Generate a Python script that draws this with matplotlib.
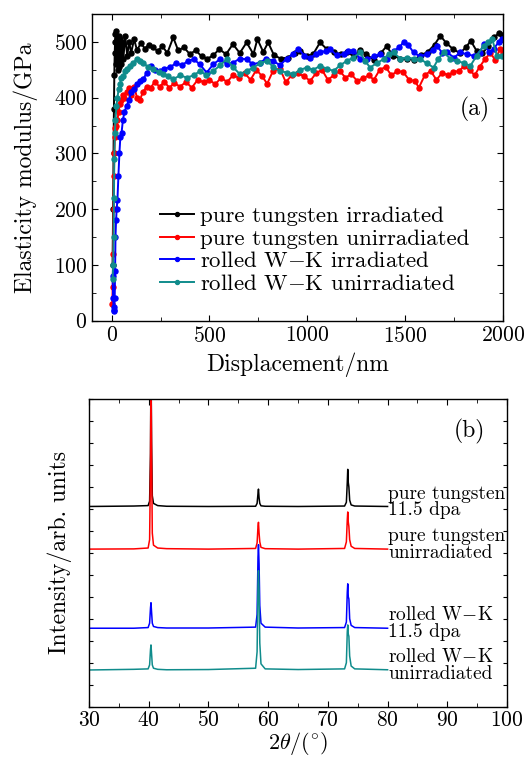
import matplotlib
matplotlib.use('Agg')
import matplotlib.pyplot as plt
from matplotlib.ticker import MultipleLocator

plt.rcParams['font.family'] = ['cmr10', 'DejaVu Serif']
plt.rcParams['mathtext.fontset'] = 'cm'
plt.rcParams['axes.formatter.use_mathtext'] = True

# (a) elasticity modulus vs displacement
w_irr_x = [5, 8, 10, 12, 14, 16, 18, 20, 22, 25, 28, 32, 36, 40, 45, 50, 55, 60, 70, 80, 90, 100,
           115, 130, 150, 170, 190, 210, 235, 260, 285, 315, 340, 370, 400, 430, 460, 490, 520, 550,
           585, 620, 655, 690, 725, 745, 775, 800, 830, 865, 900, 935, 965, 1000, 1030, 1065, 1100,
           1135, 1170, 1205, 1240, 1270, 1300, 1340, 1375, 1405, 1440, 1475, 1510, 1545, 1580, 1615,
           1650, 1680, 1710, 1745, 1780, 1810, 1835, 1865, 1895, 1925, 1955, 1980, 1995]
w_irr_y = [100, 200, 300, 380, 440, 480, 500, 515, 520, 460, 505, 450, 510, 455, 505, 460, 500, 470,
           510, 475, 500, 480, 505, 485, 498, 488, 495, 490, 484, 492, 480, 508, 485, 490, 478, 485,
           474, 470, 476, 487, 478, 496, 480, 499, 478, 505, 482, 499, 476, 470, 472, 480, 484, 474,
           478, 499, 487, 482, 478, 481, 474, 486, 478, 468, 480, 492, 475, 470, 470, 468, 476, 482,
           495, 511, 498, 487, 480, 490, 502, 484, 480, 492, 508, 516, 512]

w_unirr_x = [3, 6, 8, 10, 12, 14, 17, 20, 25, 30, 36, 42, 50, 58, 66, 77, 88, 100, 115, 130, 145,
             160, 180, 200, 220, 245, 270, 295, 320, 350, 380, 410, 440, 470, 500, 530, 560, 590,
             620, 650, 680, 710, 740, 770, 795, 825, 860, 890, 920, 950, 985, 1015, 1045, 1075, 1105,
             1135, 1165, 1195, 1225, 1255, 1285, 1315, 1340, 1370, 1400, 1430, 1460, 1490, 1520,
             1550, 1570, 1600, 1630, 1660, 1690, 1720, 1745, 1775, 1800, 1830, 1855, 1880, 1910,
             1935, 1960, 1985, 2000]
w_unirr_y = [30, 60, 120, 200, 260, 300, 330, 345, 350, 360, 375, 388, 395, 405, 400, 410, 418, 405,
             420, 400, 396, 410, 420, 418, 428, 420, 428, 418, 426, 420, 428, 418, 432, 428, 432, 424,
             436, 428, 440, 436, 444, 432, 450, 438, 425, 448, 452, 428, 440, 444, 438, 430, 444, 450,
             432, 440, 448, 436, 442, 430, 435, 440, 432, 450, 455, 440, 448, 446, 432, 430, 418, 440,
             448, 432, 445, 440, 446, 448, 456, 450, 440, 455, 470, 480, 468, 487, 480]

wk_irr_x = [5, 8, 10, 12, 14, 16, 18, 20, 23, 26, 30, 35, 40, 45, 51, 58, 66, 77, 88, 100, 115, 130,
            145, 162, 180, 200, 220, 245, 270, 300, 330, 360, 390, 420, 450, 486, 520, 554, 590, 622,
            655, 690, 720, 759, 790, 827, 860, 895, 925, 955, 985, 1015, 1045, 1066, 1095, 1117, 1150,
            1185, 1210, 1236, 1270, 1304, 1340, 1373, 1405, 1441, 1470, 1492, 1515, 1543, 1575, 1611,
            1640, 1662, 1690, 1714, 1750, 1782, 1815, 1850, 1880, 1901, 1930, 1952, 1978, 1995]
wk_irr_y = [80, 40, 25, 17, 20, 40, 90, 150, 180, 200, 217, 260, 300, 330, 337, 360, 375, 385, 395,
            410, 415, 425, 430, 433, 445, 457, 450, 448, 452, 455, 462, 458, 466, 469, 460, 445, 460,
            469, 460, 463, 470, 469, 460, 463, 470, 466, 458, 470, 478, 488, 475, 472, 478, 481, 484,
            487, 476, 478, 484, 484, 470, 469, 474, 478, 470, 484, 490, 500, 495, 481, 474, 478, 485,
            493, 480, 481, 472, 481, 478, 475, 480, 496, 482, 487, 500, 506]

wk_unirr_x = [5, 8, 10, 12, 14, 17, 20, 25, 30, 36, 42, 50, 60, 70, 80, 94, 110, 128, 145, 162, 185,
              213, 240, 264, 290, 315, 350, 384, 420, 452, 485, 520, 555, 588, 620, 656, 690, 725,
              760, 793, 827, 861, 895, 929, 965, 997, 1030, 1066, 1100, 1134, 1168, 1202, 1236, 1270,
              1295, 1321, 1355, 1390, 1415, 1441, 1475, 1509, 1545, 1577, 1610, 1645, 1670, 1697,
              1730, 1765, 1800, 1833, 1865, 1901, 1925, 1944, 1969, 1995]
wk_unirr_y = [75, 100, 150, 220, 290, 337, 360, 385, 400, 415, 425, 435, 439, 448, 452, 457, 462, 469,
              465, 463, 455, 451, 446, 442, 438, 433, 440, 436, 440, 448, 440, 448, 458, 469, 455, 442,
              448, 454, 462, 466, 455, 448, 445, 442, 450, 454, 450, 457, 452, 448, 458, 466, 472, 481,
              466, 454, 462, 469, 478, 481, 470, 472, 470, 469, 462, 454, 470, 481, 470, 466, 462, 457,
              475, 493, 500, 506, 475, 475]

labels_a = ['pure tungsten irradiated', 'pure tungsten unirradiated',
            'rolled W$-$K irradiated', 'rolled W$-$K unirradiated']

# (b) XRD patterns (stacked, arbitrary units)
two_theta = [30, 37.5, 39.9, 40.15, 40.3, 40.38, 40.48, 40.6, 40.8, 41.5, 43, 50, 57.9, 58.15, 58.3,
             58.38, 58.48, 58.6, 58.8, 59.5, 65, 72.8, 73.1, 73.25, 73.33, 73.42, 73.52, 73.65,
             73.9, 74.5, 80]
xrd_w_irr = [9.11, 9.13, 9.15, 9.35, 11.5, 16, 12, 9.6, 9.25, 9.15, 9.12, 9.11, 9.12, 9.25, 9.7,
             9.9, 9.5, 9.25, 9.14, 9.12, 9.11, 9.13, 9.3, 10.2, 10.8, 10.2, 10.0, 9.4, 9.18, 9.13, 9.11]
xrd_w_unirr = [7.17, 7.18, 7.22, 7.6, 11, 15.5, 11.5, 7.9, 7.35, 7.22, 7.19, 7.17, 7.2, 7.45, 8.2,
               8.39, 7.9, 7.5, 7.25, 7.19, 7.17, 7.2, 7.5, 8.5, 8.86, 8.4, 8.2, 7.6, 7.3, 7.2, 7.17]
xrd_wk_irr = [3.57, 3.57, 3.6, 3.8, 4.5, 4.73, 4.3, 3.8, 3.65, 3.6, 3.58, 3.58, 3.62, 4.2, 6.8,
              7.37, 6.5, 4.6, 3.8, 3.62, 3.58, 3.6, 3.85, 5.2, 5.59, 5.0, 4.9, 4.0, 3.7, 3.6, 3.57]
xrd_wk_unirr = [1.67, 1.7, 1.72, 1.9, 2.6, 2.81, 2.4, 1.9, 1.75, 1.7, 1.68, 1.69, 1.75, 2.5, 5.6,
                6.19, 5.3, 2.9, 1.95, 1.72, 1.69, 1.72, 2.0, 3.4, 3.72, 3.3, 3.2, 2.3, 1.85, 1.72, 1.68]
labels_b = ['pure tungsten\n11.5 dpa', 'pure tungsten\nunirradiated',
            'rolled W$-$K\n11.5 dpa', 'rolled W$-$K\nunirradiated']

colors = ['black', '#ff0000', '#0000ff', '#108c8c']

fig = plt.figure(figsize=(5.26, 7.58), dpi=100)

# ---- panel (a)
ax1 = fig.add_axes([0.1749, 0.5769, 0.7814, 0.4046])
series_a = [(w_irr_x, w_irr_y), (w_unirr_x, w_unirr_y), (wk_irr_x, wk_irr_y), (wk_unirr_x, wk_unirr_y)]
for (xs, ys), c, lab in zip(series_a, colors, labels_a):
    ax1.plot(xs, ys, color=c, lw=1.4, marker='o', ms=3.6, label=lab)
ax1.set_xlim(-100, 2000)
ax1.set_ylim(0, 550)
ax1.xaxis.set_major_locator(MultipleLocator(500))
ax1.xaxis.set_minor_locator(MultipleLocator(250))
ax1.yaxis.set_major_locator(MultipleLocator(100))
ax1.yaxis.set_minor_locator(MultipleLocator(50))
ax1.set_xlabel('Displacement/nm', fontsize=17, labelpad=5)
ax1.set_ylabel('Elasticity modulus/GPa', fontsize=17, labelpad=11)
ax1.text(0.968, 0.69, '(a)', transform=ax1.transAxes, fontsize=17, ha='right', va='center')
leg = ax1.legend(loc='upper left', bbox_to_anchor=(0.165, 0.375), frameon=False, fontsize=16.5,
                 handlelength=1.5, handletextpad=0.25, labelspacing=0.12, borderaxespad=0.0,
                 borderpad=0.0, markerscale=0.8)

# ---- panel (b)
ax2 = fig.add_axes([0.1692, 0.0677, 0.7947, 0.4059])
series_b = [xrd_w_irr, xrd_w_unirr, xrd_wk_irr, xrd_wk_unirr]
for ys, c, lab in zip(series_b, colors, labels_b):
    ax2.plot(two_theta, ys, color=c, lw=1.1)
    ax2.text(80.1, ys[-1] + 0.2, lab, fontsize=14, ha='left', va='center', linespacing=0.92)
ax2.set_xlim(30, 100)
ax2.set_ylim(0, 14)
ax2.xaxis.set_major_locator(MultipleLocator(10))
ax2.xaxis.set_minor_locator(MultipleLocator(5))
ax2.yaxis.set_major_locator(MultipleLocator(1))
ax2.set_yticklabels([])
ax2.set_xlabel(r'$2\theta/(^{\circ})$', fontsize=16, labelpad=0)
ax2.set_ylabel('Intensity/arb. units', fontsize=17, labelpad=9)
ax2.text(0.91, 0.895, '(b)', transform=ax2.transAxes, fontsize=17, ha='center', va='center')

for ax in (ax1, ax2):
    ax.tick_params(which='both', direction='in', top=True, right=True, labelsize=15.5)
    ax.tick_params(which='major', length=4)
    ax.tick_params(which='minor', length=3)
    for sp in ax.spines.values():
        sp.set_linewidth(1.0)
ax2.tick_params(axis='x', which='major', pad=2.5)
ax2.tick_params(axis='y', which='major', length=3)

fig.savefig('out.png', dpi=100)
